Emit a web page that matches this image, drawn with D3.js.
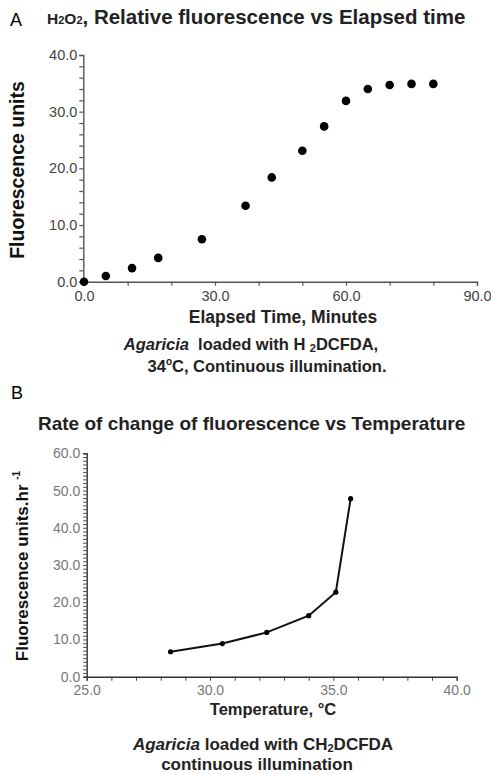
<!DOCTYPE html>
<html><head><meta charset="utf-8">
<script src="https://cdn.jsdelivr.net/npm/d3@7"></script>
<style>
html,body{margin:0;padding:0;background:#fff;}
svg{display:block;}
text{font-family:"Liberation Sans",Arial,sans-serif;}
</style></head>
<body>
<svg id="c" width="491" height="775"></svg>
<script>
// Panel A data
const timeMin = [0, 5, 11, 17, 27, 37, 43, 50, 55, 60, 65, 70, 75, 80];
const fluorUnits = [0, 1.0, 2.4, 4.2, 7.5, 13.4, 18.4, 23.1, 27.4, 31.9, 34.0, 34.7, 34.9, 34.9];
const aXTickLabels = [0, 30, 60, 90];
const aYTickLabels = [0, 10, 20, 30, 40];
// Panel B data
const temperatureC = [28.4, 30.5, 32.3, 34.0, 35.1, 35.7];
const rateUnits = [6.7, 8.9, 11.9, 16.4, 22.7, 47.8];
const bXTickLabels = [25, 30, 35, 40];
const bYTickLabels = [0, 10, 20, 30, 40, 50, 60];

const svg = d3.select("#c");
const fmt = d3.format(".1f");

// ---------- Panel A ----------
const ax = d3.scaleLinear().domain([0, 90]).range([84, 477]);
const ay = d3.scaleLinear().domain([0, 40]).range([281.7, 55]);

svg.append("text").attr("x", 10).attr("y", 26).attr("font-size", 18)
  .attr("font-family", "Liberation Serif, serif").text("A");

const tA = svg.append("text").attr("x", 47).attr("y", 24).attr("font-weight", "bold").attr("fill", "#222");
tA.append("tspan").attr("font-size", 15.5).text("H");
tA.append("tspan").attr("font-size", 11).text("2");
tA.append("tspan").attr("font-size", 15.5).text("O");
tA.append("tspan").attr("font-size", 11).text("2");
tA.append("tspan").attr("font-size", 20.5).text(", Relative fluorescence vs Elapsed time");

// y axis A
const gAY = svg.append("g").attr("transform", `translate(${ax(0) - 0.7},0)`)
  .call(d3.axisLeft(ay).tickValues(d3.range(0, 41, 2)).tickSize(4)
    .tickFormat(d => aYTickLabels.includes(d) ? fmt(d) : ""));
// x axis A
const gAX = svg.append("g").attr("transform", `translate(0,${ay(0)})`)
  .call(d3.axisBottom(ax).tickValues(d3.range(0, 91, 10)).tickSize(4)
    .tickFormat(d => aXTickLabels.includes(d) ? fmt(d) : ""));
[gAY, gAX].forEach(g => {
  g.selectAll("path").attr("stroke", "#555").attr("stroke-width", 1.4);
  g.selectAll("line").attr("stroke", "#555").attr("stroke-width", 1.2);
  g.selectAll("text").attr("fill", "#444").attr("font-size", 14.5)
    .attr("font-family", "Liberation Sans, Arial, sans-serif");
});
gAY.selectAll("text").attr("dx", 1);
gAX.selectAll("text").attr("dy", "0.85em");

svg.append("g").selectAll("circle").data(timeMin).join("circle")
  .attr("cx", (d, i) => ax(d)).attr("cy", (d, i) => ay(fluorUnits[i]))
  .attr("r", 4.3).attr("fill", "#000");

svg.append("text").attr("transform", "translate(24,170) rotate(-90)")
  .attr("text-anchor", "middle").attr("font-weight", "bold").attr("font-size", 19.5)
  .attr("fill", "#111").text("Fluorescence units");

svg.append("text").attr("x", 283).attr("y", 323).attr("text-anchor", "middle")
  .attr("font-weight", "bold").attr("font-size", 17.5).attr("fill", "#222")
  .text("Elapsed Time, Minutes");

const cA1 = svg.append("text").attr("x", 251).attr("y", 350).attr("text-anchor", "middle")
  .attr("font-weight", "bold").attr("font-size", 16.5).attr("fill", "#222");
cA1.append("tspan").attr("font-style", "italic").text("Agaricia");
cA1.append("tspan").text("\u00A0 loaded with H");
cA1.append("tspan").attr("font-size", 11).attr("dy", 1.5).text("\u2009\u20092");
cA1.append("tspan").attr("dy", -1.5).text("DCFDA,");

const cA2 = svg.append("text").attr("x", 267).attr("y", 372).attr("text-anchor", "middle")
  .attr("font-weight", "bold").attr("font-size", 16.5).attr("fill", "#222");
cA2.append("tspan").text("34");
cA2.append("tspan").attr("font-size", 10).attr("dy", -7).text("o");
cA2.append("tspan").attr("dy", 7).text("C, Continuous illumination.");

// ---------- Panel B ----------
const bx = d3.scaleLinear().domain([25, 40]).range([86.7, 456.7]);
const by = d3.scaleLinear().domain([0, 60]).range([676.7, 453.3]);

svg.append("text").attr("x", 11).attr("y", 399).attr("font-size", 18)
  .attr("font-family", "Liberation Serif, serif").text("B");

svg.append("text").attr("x", 38).attr("y", 430).attr("font-weight", "bold")
  .attr("font-size", 19).attr("fill", "#222").text("Rate of change of fluorescence vs Temperature");

const gBY = svg.append("g").attr("transform", `translate(${bx(25)},0)`)
  .call(d3.axisLeft(by).tickValues(d3.range(0, 61, 1)).tickSize(3.5)
    .tickFormat(d => bYTickLabels.includes(d) ? fmt(d) : ""));
const gBX = svg.append("g").attr("transform", `translate(0,${by(0)})`)
  .call(d3.axisBottom(bx).tickValues(d3.range(25, 41, 1)).tickSize(4)
    .tickFormat(d => bXTickLabels.includes(d) ? fmt(d) : ""));
[gBY, gBX].forEach(g => {
  g.selectAll("path").attr("stroke", "#333").attr("stroke-width", 1.4);
  g.selectAll("line").attr("stroke", "#444").attr("stroke-width", 1);
  g.selectAll("text").attr("fill", "#777").attr("font-size", 14)
    .attr("font-family", "Liberation Sans, Arial, sans-serif");
});
gBX.selectAll("text").attr("dy", "0.8em");

const line = d3.line().x((d, i) => bx(d)).y((d, i) => by(rateUnits[i]));
svg.append("path").datum(temperatureC).attr("d", line)
  .attr("fill", "none").attr("stroke", "#111").attr("stroke-width", 2);
svg.append("g").selectAll("circle").data(temperatureC).join("circle")
  .attr("cx", d => bx(d)).attr("cy", (d, i) => by(rateUnits[i]))
  .attr("r", 2.6).attr("fill", "#000");

const yB = svg.append("text").attr("transform", "translate(28,566) rotate(-90)")
  .attr("text-anchor", "middle").attr("font-weight", "bold").attr("font-size", 17)
  .attr("fill", "#111");
yB.append("tspan").text("Fluorescence units.hr ");
yB.append("tspan").attr("font-size", 10).attr("dy", -8).text("-1");

svg.append("text").attr("x", 273).attr("y", 715).attr("text-anchor", "middle")
  .attr("font-weight", "bold").attr("font-size", 16.5).attr("fill", "#222")
  .text("Temperature, \u00B0C");

const cB1 = svg.append("text").attr("x", 263).attr("y", 750).attr("text-anchor", "middle")
  .attr("font-weight", "bold").attr("font-size", 17).attr("fill", "#222");
cB1.append("tspan").attr("font-style", "italic").text("Agaricia");
cB1.append("tspan").text(" loaded with CH");
cB1.append("tspan").attr("font-size", 11).attr("dy", 1.5).text("2");
cB1.append("tspan").attr("dy", -1.5).text("DCFDA");

svg.append("text").attr("x", 257).attr("y", 770).attr("text-anchor", "middle")
  .attr("font-weight", "bold").attr("font-size", 17).attr("fill", "#222")
  .text("continuous illumination");
</script>
</body></html>
